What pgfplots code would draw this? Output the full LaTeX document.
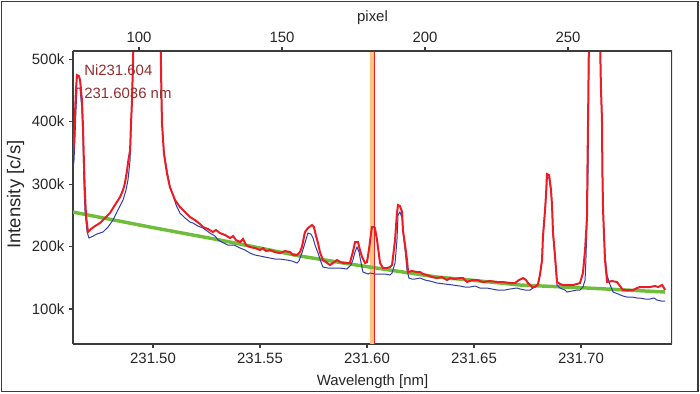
\documentclass[border=0pt]{standalone}
\usepackage{pgfplots}
\pgfplotsset{compat=1.18}
\usepackage{fontspec}
\setmainfont{Liberation Sans}
\definecolor{specred}{RGB}{236,28,36}
\definecolor{specblue}{RGB}{50,60,165}
\definecolor{bggreen}{RGB}{110,190,60}
\definecolor{winorange}{RGB}{255,195,130}
\definecolor{lblbrown}{RGB}{150,45,45}
\definecolor{framegray}{RGB}{60,60,60}

\pgfplotstableread{
wl r
231.4626 346.4
231.4631 370.4
231.4635 407.2
231.4640 450.4
231.4645 474.4
231.4654 472.8
231.4659 466.4
231.4663 453.6
231.4668 434.4
231.4673 391.2
231.4677 338.4
231.4682 285.6
231.4687 250.4
231.4696 223.2
231.4710 228.0
231.4729 232.8
231.4752 237.6
231.4776 245.6
231.4799 253.6
231.4822 266.4
231.4846 279.2
231.4860 290.4
231.4869 301.6
231.4879 322.4
231.4883 333.6
231.4893 354.4
231.4897 394.4
231.4902 434.4
231.4907 498.4
231.4911 562.4
231.4972 1234.4
231.5033 562.4
231.5037 498.4
231.5040 429.6
231.5042 397.6
231.5051 349.6
231.5065 317.6
231.5079 295.2
231.5103 274.4
231.5126 263.2
231.5150 255.2
231.5173 247.2
231.5196 242.4
231.5220 236.0
231.5234 231.2
231.5257 228.0
231.5280 223.2
231.5294 226.4
231.5313 221.6
231.5337 218.4
231.5360 213.6
231.5374 216.8
231.5388 210.4
231.5407 207.2
231.5421 212.0
231.5435 202.4
231.5453 199.2
231.5477 197.6
231.5500 194.4
231.5514 197.6
231.5528 192.8
231.5547 194.4
231.5570 191.2
231.5593 189.6
231.5617 192.8
231.5640 191.2
231.5654 186.4
231.5673 186.4
231.5687 191.2
231.5696 199.2
231.5710 223.2
231.5724 229.6
231.5743 234.4
231.5752 231.2
231.5762 216.8
231.5771 205.6
231.5780 191.2
231.5794 178.4
231.5808 175.2
231.5827 170.4
231.5841 173.6
231.5860 178.4
231.5874 175.2
231.5888 173.6
231.5906 173.6
231.5920 173.6
231.5934 191.2
231.5944 207.2
231.5958 207.2
231.5967 194.4
231.5977 183.2
231.5991 173.6
231.6000 175.2
231.6009 194.4
231.6019 221.6
231.6023 231.2
231.6033 231.2
231.6037 229.6
231.6047 210.4
231.6056 186.4
231.6061 173.6
231.6075 165.6
231.6093 165.6
231.6107 167.2
231.6117 170.4
231.6121 181.6
231.6131 210.4
231.6140 253.6
231.6145 266.4
231.6154 264.8
231.6164 255.2
231.6168 226.4
231.6178 202.4
231.6187 178.4
231.6192 159.2
231.6210 160.8
231.6234 159.2
231.6248 159.2
231.6262 156.0
231.6280 154.4
231.6304 151.2
231.6327 149.6
231.6350 151.2
231.6374 146.4
231.6388 149.6
231.6411 148.0
231.6435 149.6
231.6449 149.6
231.6467 143.2
231.6491 146.4
231.6514 146.4
231.6542 143.2
231.6575 144.8
231.6608 143.2
231.6636 143.2
231.6668 141.6
231.6692 141.6
231.6710 146.4
231.6729 149.6
231.6743 146.4
231.6752 141.6
231.6771 135.2
231.6785 135.2
231.6799 140.0
231.6808 154.4
231.6818 178.4
231.6822 215.2
231.6832 258.4
231.6837 285.6
231.6841 316.0
231.6851 314.4
231.6855 303.2
231.6860 290.4
231.6865 263.2
231.6869 223.2
231.6879 183.2
231.6888 143.2
231.6902 140.0
231.6916 138.4
231.6939 138.4
231.6963 138.4
231.6981 140.0
231.6995 141.6
231.7009 157.6
231.7019 194.4
231.7028 247.2
231.7030 322.4
231.7033 402.4
231.7037 530.4
231.7065 1234.4
231.7089 530.4
231.7093 456.8
231.7098 402.4
231.7100 319.2
231.7103 258.4
231.7112 178.4
231.7122 143.2
231.7145 144.8
231.7168 143.2
231.7182 136.8
231.7196 130.4
231.7220 130.4
231.7243 130.4
231.7262 133.6
231.7276 135.2
231.7299 135.2
231.7322 135.2
231.7346 136.8
231.7360 135.2
231.7379 138.4
231.7388 133.6
231.7393 130.4
}\redtab

\pgfplotstableread{
wl b
231.4626 322.4
231.4631 338.4
231.4635 370.4
231.4640 418.4
231.4645 453.6
231.4659 453.6
231.4668 418.4
231.4673 370.4
231.4677 306.4
231.4682 258.4
231.4692 223.2
231.4701 213.6
231.4720 216.8
231.4738 220.0
231.4766 223.2
231.4790 231.2
231.4813 242.4
231.4836 258.4
231.4860 274.4
231.4874 290.4
231.4883 306.4
231.4893 338.4
231.4897 386.4
231.4902 434.4
231.4907 498.4
231.4911 562.4
231.4972 1234.4
231.5033 562.4
231.5037 498.4
231.5042 402.4
231.5051 351.2
231.5065 322.4
231.5079 296.0
231.5094 282.4
231.5108 266.4
231.5126 253.6
231.5150 245.6
231.5173 239.2
231.5187 237.6
231.5210 232.8
231.5234 229.6
231.5266 221.6
231.5290 216.8
231.5304 210.4
231.5322 207.2
231.5350 202.4
231.5379 202.4
231.5407 197.6
231.5430 194.4
231.5453 189.6
231.5477 186.4
231.5500 184.8
231.5523 183.2
231.5547 181.6
231.5570 180.0
231.5593 180.0
231.5626 178.4
231.5650 176.8
231.5673 173.6
231.5682 176.8
231.5696 189.6
231.5710 205.6
231.5724 221.6
231.5738 220.0
231.5748 213.6
231.5757 202.4
231.5771 189.6
231.5785 175.2
231.5794 167.2
231.5818 165.6
231.5841 165.6
231.5874 165.6
231.5906 164.0
231.5925 170.4
231.5934 178.4
231.5944 191.2
231.5953 199.2
231.5963 191.2
231.5967 183.2
231.5977 165.6
231.5981 159.2
231.6005 156.0
231.6014 157.6
231.6037 156.0
231.6061 156.0
231.6084 156.0
231.6107 154.4
231.6117 157.6
231.6131 173.6
231.6140 210.4
231.6145 250.4
231.6154 255.2
231.6164 245.6
231.6168 223.2
231.6178 194.4
231.6187 162.4
231.6196 149.6
231.6210 148.0
231.6224 148.0
231.6248 149.6
231.6271 146.4
231.6294 144.8
231.6327 141.6
231.6364 140.0
231.6402 138.4
231.6435 136.8
231.6458 135.2
231.6481 135.2
231.6505 136.8
231.6528 133.6
231.6561 133.6
231.6584 132.0
231.6608 130.4
231.6645 130.4
231.6668 132.0
231.6701 133.6
231.6715 132.0
231.6738 130.4
231.6762 130.4
231.6776 133.6
231.6799 138.4
231.6808 154.4
231.6818 178.4
231.6822 215.2
231.6832 258.4
231.6837 282.4
231.6841 311.2
231.6851 309.6
231.6860 287.2
231.6865 260.0
231.6869 220.0
231.6879 178.4
231.6888 138.4
231.6902 133.6
231.6925 130.4
231.6935 127.2
231.6958 128.8
231.6981 130.4
231.6995 130.4
231.7009 135.2
231.7019 146.4
231.7023 178.4
231.7028 242.4
231.7033 322.4
231.7035 402.4
231.7037 530.4
231.7065 1234.4
231.7089 530.4
231.7093 456.8
231.7098 402.4
231.7100 319.2
231.7103 258.4
231.7112 186.4
231.7122 153.6
231.7136 138.4
231.7150 127.2
231.7173 124.0
231.7196 120.8
231.7215 119.2
231.7238 119.2
231.7262 117.6
231.7276 117.6
231.7299 116.0
231.7322 116.0
231.7341 117.6
231.7355 114.4
231.7374 112.8
231.7393 112.8
}\bluetab

\pgfplotstableread{
wl g
231.4626 255.2
231.4986 231.2
231.5313 210.4
231.5687 184.8
231.5920 172.0
231.6168 159.2
231.6327 151.2
231.6481 146.4
231.6715 138.4
231.7028 133.6
231.7393 127.2
}\greentab

\begin{document}
\begin{tikzpicture}
\useasboundingbox (0,0) rectangle (525pt,294.75pt);
\draw[framegray, line width=1.1pt] (1.1pt,1.1pt) rectangle (523.6pt,293.6pt);
\begin{axis}[
  at={(54.75pt,36.75pt)}, anchor=south west,
  width=449.25pt, height=219.75pt, scale only axis,
  xmin=231.46262, xmax=231.74252,
  ymin=44, ymax=513,
  axis x line*=bottom, axis y line*=left,
  axis line style={framegray, line width=0.9pt, -},
  tick align=outside, major tick length=3pt,
  tick style={framegray, line width=0.8pt},
  xtick={231.50,231.55,231.60,231.65,231.70},
  xticklabels={231.50,231.55,231.60,231.65,231.70},
  ytick={100,200,300,400,500},
  yticklabels={100k,200k,300k,400k,500k},
  ticklabel style={font=\fontsize{11.2}{13}\selectfont, text=black!85},
  /pgf/number format/assume math mode=true,
  xlabel={Wavelength [nm]},
  xlabel style={font=\fontsize{11.2}{13}\selectfont, at={(axis description cs:0.5,-0.1297)}, anchor=center, text=black!85},
  ylabel={Intensity [c/s]},
  ylabel style={font=\fontsize{13.9}{16}\selectfont, at={(axis description cs:-0.096,0.51)}, anchor=center, rotate=0, text=black!85},
  clip=true,
]
\addplot[winorange, line width=2.4pt, forget plot] coordinates {(231.6023,0) (231.6023,600)};
\addplot[bggreen, line width=2.6pt] table[x=wl, y=g] {\greentab};
\addplot[specblue, line width=0.75pt] table[x=wl, y=b] {\bluetab};
\addplot[specred, line width=1.5pt] table[x=wl, y=r] {\redtab};
\addplot[specred, line width=1pt] coordinates {(231.6036,0) (231.6036,600)};
\node[anchor=west, text=lblbrown, font=\fontsize{11.2}{13}\selectfont, inner sep=0pt] at (axis description cs:0.0184,0.935) {Ni231.604};
\node[anchor=west, text=lblbrown, font=\fontsize{11.2}{13}\selectfont, inner sep=0pt] at (axis description cs:0.0184,0.8567) {231.6036 nm};
\draw[framegray, line width=0.9pt] (rel axis cs:0,1) -- (rel axis cs:1,1) -- (rel axis cs:1,0);
\end{axis}
\begin{axis}[
  at={(54.75pt,36.75pt)}, anchor=south west,
  width=449.25pt, height=219.75pt, scale only axis,
  xmin=76.92, xmax=286.36, ymin=0, ymax=1,
  axis x line*=top, hide y axis,
  axis line style={framegray, line width=0.9pt, -},
  tick align=outside, major tick length=3pt,
  tick style={framegray, line width=0.8pt},
  xtick={100,150,200,250},
  ticklabel style={font=\fontsize{11.2}{13}\selectfont, text=black!85},
  /pgf/number format/assume math mode=true,
  xlabel={pixel},
  xlabel style={font=\fontsize{11.2}{13}\selectfont, at={(axis description cs:0.5,1.1126)}, anchor=center, text=black!85},
]
\addplot[draw=none, forget plot] coordinates {(100,0.5)};
\end{axis}
\end{tikzpicture}
\end{document}
